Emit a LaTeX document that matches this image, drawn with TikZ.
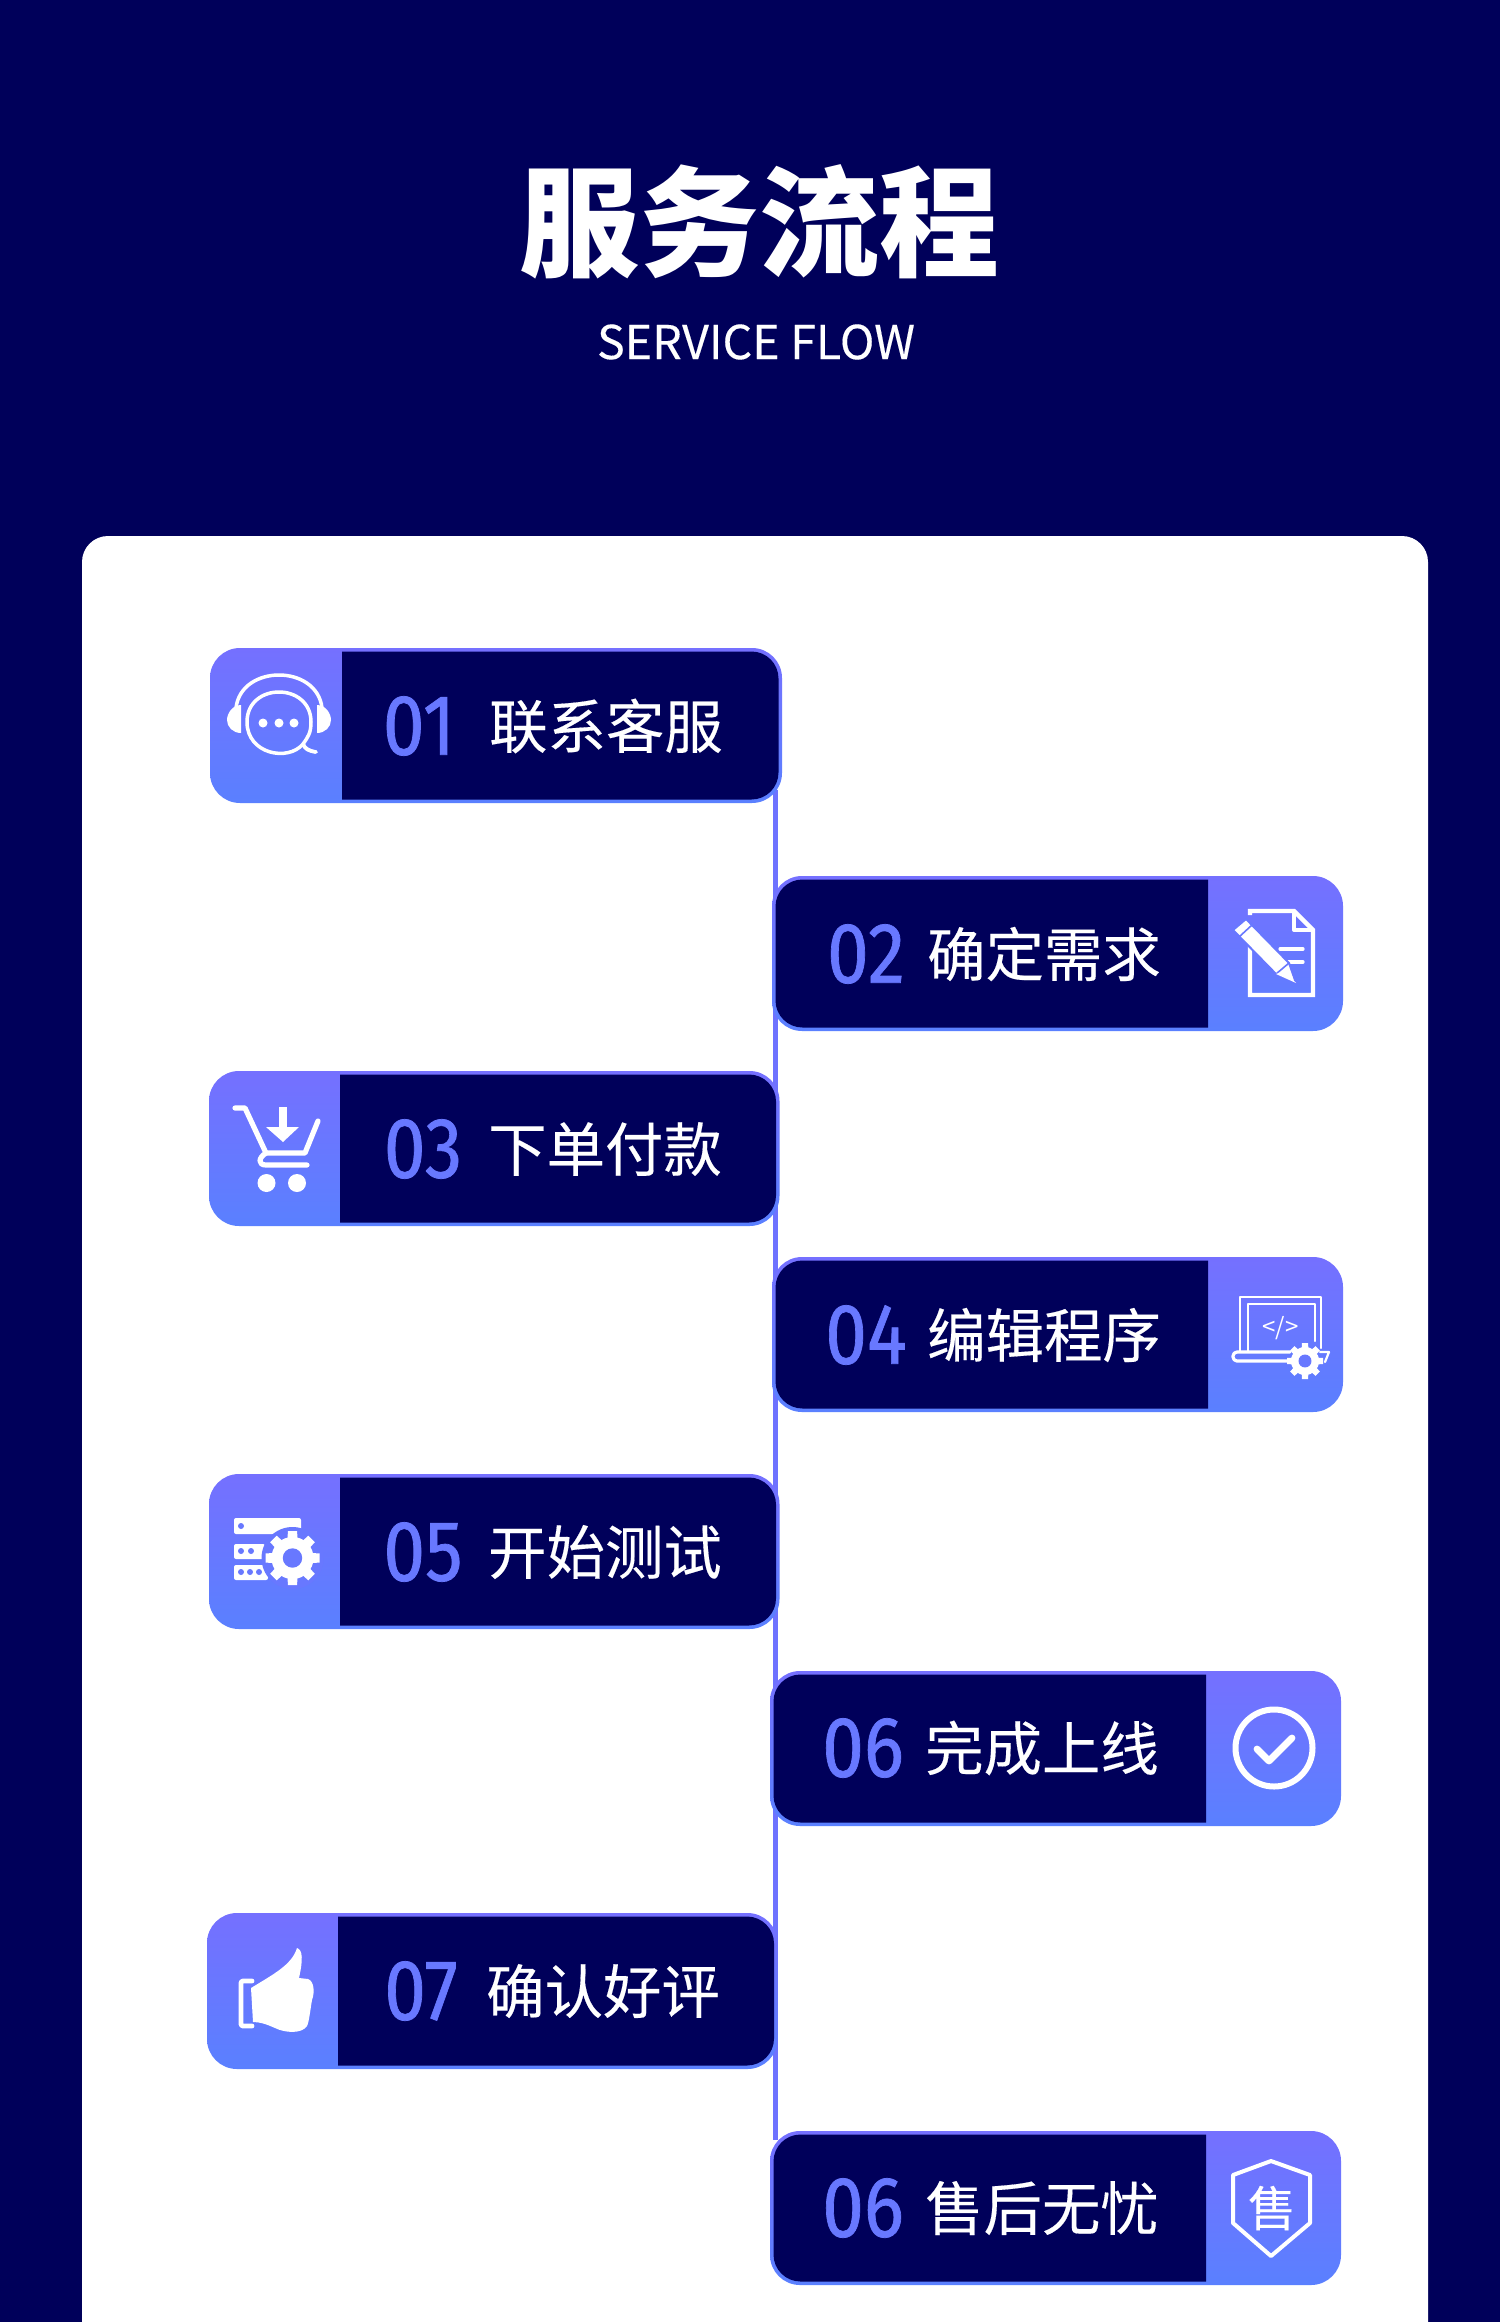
\documentclass[tikz,border=0pt]{standalone}
\usepackage{fontspec}
\newfontfamily\cjk{Noto Sans CJK SC}
\newfontfamily\cjkm{Noto Sans CJK SC}[FakeBold=0.25]
\newfontfamily\numf{Fira Sans}[FakeBold=0.9]
\usetikzlibrary{calc}
\definecolor{navy}{HTML}{00005A}
\definecolor{bluetop}{HTML}{7570FF}
\definecolor{bluebot}{HTML}{5A80FF}
\definecolor{bluemid}{HTML}{6878FF}
\definecolor{linec}{HTML}{6E72FF}
\tikzset{
 x=0.5pt,y=-0.5pt,
 panel/.style={rounded corners=15pt,top color=bluetop,bottom color=bluebot,draw=none,inner sep=0pt,outer sep=0pt},
 label/.style={text=white,font=\cjkm\fontsize{29.2}{29}\selectfont,inner sep=0pt},
 numlab/.style={text=bluemid,inner sep=0pt,font=\numf\fontsize{43}{43}\selectfont},
 ico/.style={draw=white,line width=1.75pt,line cap=round,line join=round},
}
\newcommand{\dg}[1]{\scalebox{0.87}[1]{#1}}
\newcommand{\leftbox}[6]{%
 \path[panel] (#2,#4) rectangle (#3,#5);
 \coordinate (#1) at (#2,#4);
 \fill[navy] (#6,#4+3.5) [rounded corners=13.5pt] -- (#3-3.5,#4+3.5) -- (#3-3.5,#5-3.5) [sharp corners] -- (#6,#5-3.5) -- cycle;
}
\newcommand{\rightbox}[6]{%
 \path[panel] (#2,#4) rectangle (#3,#5);
 \coordinate (#1) at (#3,#4);
 \fill[navy] (#6,#4+3.5) [rounded corners=13.5pt] -- (#2+3.5,#4+3.5) -- (#2+3.5,#5-3.5) [sharp corners] -- (#6,#5-3.5) -- cycle;
}
\newcommand{\gearicon}[3]{% x y r
 \begin{scope}[shift={(#1,#2)}]
  \foreach \a in {0,45,...,315}{
   \fill[white,rotate=\a] (-#3*0.22,0) -- (-#3*0.17,#3) -- (#3*0.17,#3) -- (#3*0.22,0) -- cycle;}
  \fill[white] (0,0) circle[radius=#3*0.78];
  \fill[bluemid] (0,0) circle[radius=#3*0.36];
 \end{scope}}
\begin{document}
\begin{tikzpicture}
\useasboundingbox (0,0) rectangle (1500,2322);
\clip (0,0) rectangle (1500,2322);
\fill[navy] (0,0) rectangle (1500,2322);
\fill[white,rounded corners=13pt] (82,536) rectangle (1428,2420);
\node[text=white,inner sep=0pt,font=\cjk\bfseries\fontsize{60}{60}\selectfont] (title) at (759,222) {服务流程};
\node[text=white,inner sep=0pt,font=\cjkm\fontsize{23.3}{24}\selectfont] (subtitle) at (756,342) {SERVICE FLOW};

% timeline
\coordinate (lt) at (775.5,790);
\coordinate (lb) at (775.5,2140);
\draw[linec,line width=2.4pt] (lt) -- (lb);

% boxes
\leftbox{b1}{210}{782}{648}{803}{342}
\rightbox{b2}{772}{1343}{876}{1031}{1208}
\leftbox{b3}{209}{779.5}{1071}{1226}{340}
\rightbox{b4}{772}{1343}{1257}{1412}{1208}
\leftbox{b5}{209}{779.5}{1474}{1629}{340}
\rightbox{b6}{770}{1341}{1671}{1826}{1206}
\leftbox{b7}{207}{777.5}{1913}{2069}{338}
\rightbox{b8}{770}{1341}{2131}{2285}{1206}

% labels
\node[numlab] (n1) at (419,726) {\dg{01}};
\node[label] (t1) at (606,726) {联系客服};
\node[numlab] (n2) at (866,954) {\dg{02}};
\node[label] (t2) at (1044,954) {确定需求};
\node[numlab] (n3) at (423,1149) {\dg{03}};
\node[label] (t3) at (605,1149) {下单付款};
\node[numlab] (n4) at (866,1335) {\dg{04}};
\node[label] (t4) at (1044,1335) {编辑程序};
\node[numlab] (n5) at (423,1552) {\dg{05}};
\node[label] (t5) at (605,1552) {开始测试};
\node[numlab] (n6) at (863,1748) {\dg{06}};
\node[label] (t6) at (1042,1748) {完成上线};
\node[numlab] (n7) at (421,1991) {\dg{07}};
\node[label] (t7) at (603,1991) {确认好评};
\node[numlab] (n8) at (863,2208) {\dg{06}};
\node[label] (t8) at (1042,2208) {售后无忧};

% icon 1 headset
\draw[ico] (316,752) .. controls (308,751) and (305,749) .. (303,744)
  .. controls (288,762) and (247,754) .. (247,722)
  .. controls (247,682) and (311,682) .. (311,722)
  .. controls (311,733) and (308,737) .. (303,744);
\draw[ico] (303,744) .. controls (305,749) and (310,751) .. (316,752);
\draw[ico] (236,708) .. controls (241,664) and (317,664) .. (322,708);
\fill[white] (241,705) .. controls (232,705) and (227,714) .. (227,720) .. controls (227,727) and (233,733) .. (241,733) -- cycle;
\fill[white] (317,705) .. controls (326,705) and (331,714) .. (331,720) .. controls (331,727) and (325,733) .. (317,733) -- cycle;
\foreach \x in {263,279,294}{\fill[white] (\x,723) circle[radius=4.5];}

% icon 2 document + pencil
\draw[ico,line width=2.2pt,line cap=butt,line join=miter] (1250,915) -- (1250,911) -- (1294,911) -- (1313,930) -- (1313,995) -- (1250,995) -- (1250,945);
\draw[ico,line width=2pt,line cap=butt] (1294,911) -- (1294,930) -- (1313,930);
\draw[ico,line width=1.6pt] (1280,949) -- (1303,949);
\draw[ico,line width=1.6pt] (1288,962) -- (1303,962);
\fill[white,draw=bluemid,line width=1pt] (1233,930) -- (1246,919) -- (1289,963) -- (1296,983) -- (1276,974) -- cycle;
\draw[bluemid,line width=.8pt] (1239,937) -- (1252,925);
\draw[bluemid,line width=.8pt] (1276,974) -- (1289,963);
\fill[white] (1276,974) -- (1284,971) -- (1296,983) -- cycle;

% icon 3 cart
\draw[ico,line width=2.6pt] (235,1108) -- (245,1108) -- (266,1153) -- (305,1153) -- (318,1121);
\draw[ico,line width=2.6pt] (266,1153) .. controls (258,1158) and (258,1165) .. (266,1165) -- (307,1165);
\fill[white] (266.5,1183) circle[radius=9];
\fill[white] (297,1183) circle[radius=9];
\fill[white] (279,1107) rectangle (287,1128);
\fill[white] (266,1127) -- (299,1127) -- (283,1142) -- cycle;

% icon 4 laptop
\draw[ico,line width=1.1pt] (1240,1351) -- (1240,1297) -- (1321,1297) -- (1321,1348);
\draw[ico,line width=1.1pt] (1248,1351) -- (1248,1304) -- (1315,1304) -- (1315,1341);
\draw[ico,line width=1.6pt,rounded corners=2pt] (1290,1361) -- (1233,1361) -- (1233,1352) -- (1290,1352);
\draw[ico,line width=1.1pt] (1320,1352) -- (1329,1352) -- (1325,1362);
\node[text=white,inner sep=0pt,font=\cjk\fontsize{12}{12}\selectfont] (code) at (1280.5,1328) {</>};
\gearicon{1305}{1361}{18}

% icon 5 server + gear
\fill[white,rounded corners=1pt] (234,1518) rectangle (301,1534);
\fill[white,rounded corners=1pt] (234,1544) rectangle (265,1559);
\fill[white,rounded corners=1pt] (234,1565) rectangle (268,1580);
\fill[bluemid] (241,1526) circle[radius=3];
\foreach \x in {241,251}{\fill[bluemid] (\x,1551) circle[radius=3];}
\foreach \x in {241,250,259}{\fill[bluemid] (\x,1572) circle[radius=3];}
\fill[bluemid] (292.5,1558) circle[radius=31];
\gearicon{292.5}{1558}{27}

% icon 6 check
\draw[ico,line width=3pt] (1274,1748) circle[radius=38.5];
\draw[ico,line width=3.4pt] (1257,1749) -- (1269,1761) -- (1292,1738);

% icon 7 thumb
\draw[ico,line width=2.4pt,rounded corners=1pt] (252,1981) -- (241,1981) -- (241,2026) -- (252,2026);
\fill[white] (251,1988) .. controls (272,1975) and (292,1965) .. (297,1948)
  .. controls (303,1950) and (303,1960) .. (299,1978)
  -- (308,1979) .. controls (314,1981) and (315,1992) .. (312,2000)
  .. controls (310,2012) and (309,2022) .. (307,2026)
  .. controls (302,2034) and (285,2033) .. (275,2028)
  .. controls (266,2024) and (260,2022) .. (253,2022) -- cycle;

% icon 8 shield
\draw[ico,line width=2pt] (1271,2161) -- (1310,2175) -- (1310,2223) -- (1271,2256) -- (1233,2223) -- (1233,2175) -- cycle;
\node[text=white,inner sep=0pt,font=\cjkm\fontsize{24}{24}\selectfont] (shou) at (1272,2208) {售};
\end{tikzpicture}
\end{document}
